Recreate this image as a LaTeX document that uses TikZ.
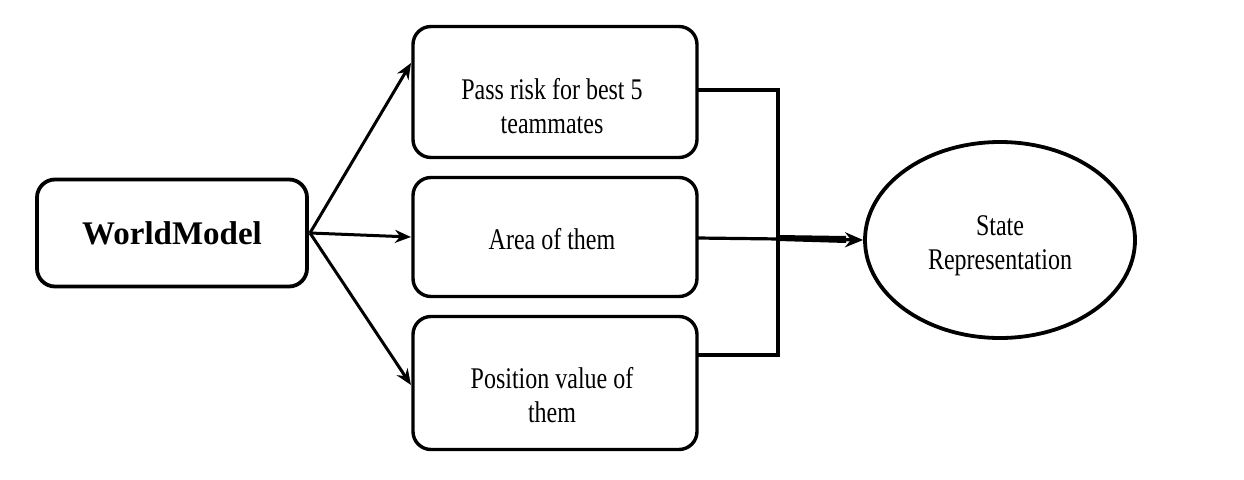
\documentclass[tikz,border=0pt]{standalone}
\usepackage{fontspec}
\setmainfont{Liberation Serif}
\usetikzlibrary{shapes.geometric,arrows.meta}
\newcommand\condtxt[1]{\scalebox{0.8}[1]{\fontsize{30}{34}\selectfont\begin{tabular}{@{}c@{}}#1\end{tabular}}}
\begin{document}
\begin{tikzpicture}[x=1pt,y=-1pt,
 box/.style={draw,line width=3.4pt,rounded corners=18pt,minimum width=284pt},
 txt/.style={inner sep=0pt},
 arr/.style={line width=3pt,-{Stealth[length=16pt,width=13pt]}}]
\useasboundingbox (0,0) rectangle (1244,479);
\node[draw,line width=3.8pt,rounded corners=18pt,minimum width=270pt,minimum height=107pt,font=\fontsize{33}{38}\selectfont\bfseries] (wm) at (172,233) {WorldModel};
\node[box,minimum height=131pt] (b1) at (555,92) {};
\node[box,minimum height=119pt] (b2) at (555,237) {};
\node[box,minimum height=133pt] (b3) at (555,383) {};
\node[txt] (l1) at (552,110) {\condtxt{Pass risk for best 5\\teammates}};
\node[txt] (l2) at (552,243) {\condtxt{Area of them}};
\node[txt] (l3) at (552,399) {\condtxt{Position value of\\them}};
\node[draw,ellipse,line width=3.8pt,minimum width=270pt,minimum height=196pt] (st) at (1000,240) {};
\node[txt] (l4) at (1000,246) {\condtxt{State\\Representation}};
\coordinate (s) at (310,233);
\draw[arr] (s) -- (411,63);
\draw[arr] (s) -- (411,237);
\draw[arr] (s) -- (411,385);
\coordinate (t1) at (697,90);
\coordinate (t3) at (697,355);
\draw[line width=3.2pt] (t1) -- (778,90) -- (778,355) -- (t3);
\draw[line width=3.2pt,-{Stealth[length=18pt,width=15pt]}] (697,238) -- (st.west);
\fill (778,235) -- (846,236) -- (846,243) -- (778,241) -- cycle;
\end{tikzpicture}
\end{document}
